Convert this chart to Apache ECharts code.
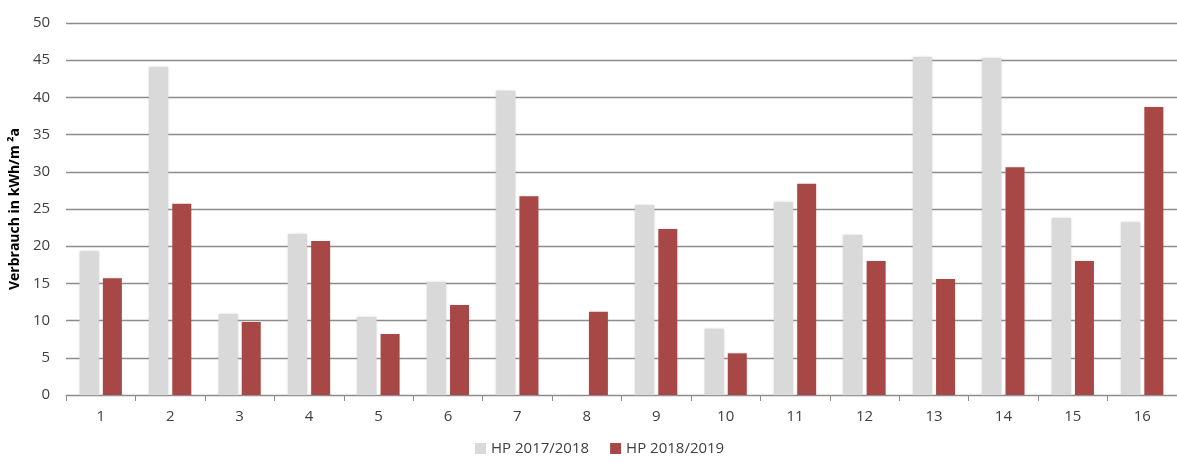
<!DOCTYPE html>
<html>
<head>
<meta charset="utf-8">
<script src="https://cdn.jsdelivr.net/npm/echarts@6/dist/echarts.min.js"></script>
<style>
    * { margin: 0; padding: 0; }
    html, body { width: 1177px; height: 462px; background: #fff; }
    #chart { width: 1177px; height: 462px; }
</style>
</head>
<body>
<div id="chart"></div>
<script>
    // Kategorien (Objekte 1-16)
    var categories = ['1', '2', '3', '4', '5', '6', '7', '8', '9', '10', '11', '12', '13', '14', '15', '16'];
    // Verbrauch HP 2017/2018
    var hp1718 = [19.3, 44.1, 10.9, 21.6, 10.5, 15.2, 40.9, 0, 25.5, 8.9, 25.9, 21.5, 45.4, 45.3, 23.8, 23.2];
    // Verbrauch HP 2018/2019
    var hp1819 = [15.7, 25.7, 9.8, 20.7, 8.2, 12.1, 26.7, 11.2, 22.3, 5.6, 28.4, 18.0, 15.6, 30.6, 18.0, 38.7];
    var seriesNames = ['HP 2017/2018', 'HP 2018/2019'];
    var yTicks = { min: 0, max: 50, interval: 5 };

    var fontFamily = '"Open Sans", "Noto Sans", sans-serif';

    var option = {
        animation: false,
        textStyle: { fontFamily: fontFamily },
        grid: { left: 66, right: 0, top: 23, bottom: 67, containLabel: false },
        legend: {
            data: seriesNames,
            bottom: 1,
            left: 470,
            itemWidth: 11,
            itemHeight: 11,
            itemGap: 21,
            icon: 'rect',
            textStyle: { color: '#404040', fontSize: 15, fontFamily: fontFamily }
        },
        xAxis: {
            type: 'category',
            data: categories,
            axisLine: { lineStyle: { color: '#8c8c8c', width: 1 } },
            axisTick: { show: true, length: 6, alignWithLabel: false, lineStyle: { color: '#8c8c8c' } },
            axisLabel: { color: '#404040', fontSize: 15, margin: 14 }
        },
        yAxis: {
            type: 'value',
            min: yTicks.min,
            max: yTicks.max,
            interval: yTicks.interval,
            name: 'Verbrauch in kWh/m ²a',
            nameLocation: 'middle',
            nameGap: 38,
            nameTextStyle: { color: '#000', fontSize: 14, fontWeight: 'bold' },
            axisLine: { show: false },
            axisTick: { show: false },
            axisLabel: { color: '#404040', fontSize: 15, margin: 16 },
            splitLine: { lineStyle: { color: '#8c8c8c', width: 1.3 } }
        },
        series: [
            {
                name: seriesNames[0],
                type: 'bar',
                data: hp1718,
                barWidth: 19,
                barGap: '22%',
                itemStyle: {
                    color: '#d9d9d9',
                    shadowColor: 'rgba(200,200,200,0.8)',
                    shadowBlur: 2
                }
            },
            {
                name: seriesNames[1],
                type: 'bar',
                data: hp1819,
                barWidth: 19,
                itemStyle: {
                    color: '#a84846',
                    shadowColor: 'rgba(230,190,190,0.6)',
                    shadowBlur: 1.5
                }
            }
        ]
    };

    var myChart = echarts.init(document.getElementById('chart'));
    myChart.setOption(option);
</script>
</body>
</html>
